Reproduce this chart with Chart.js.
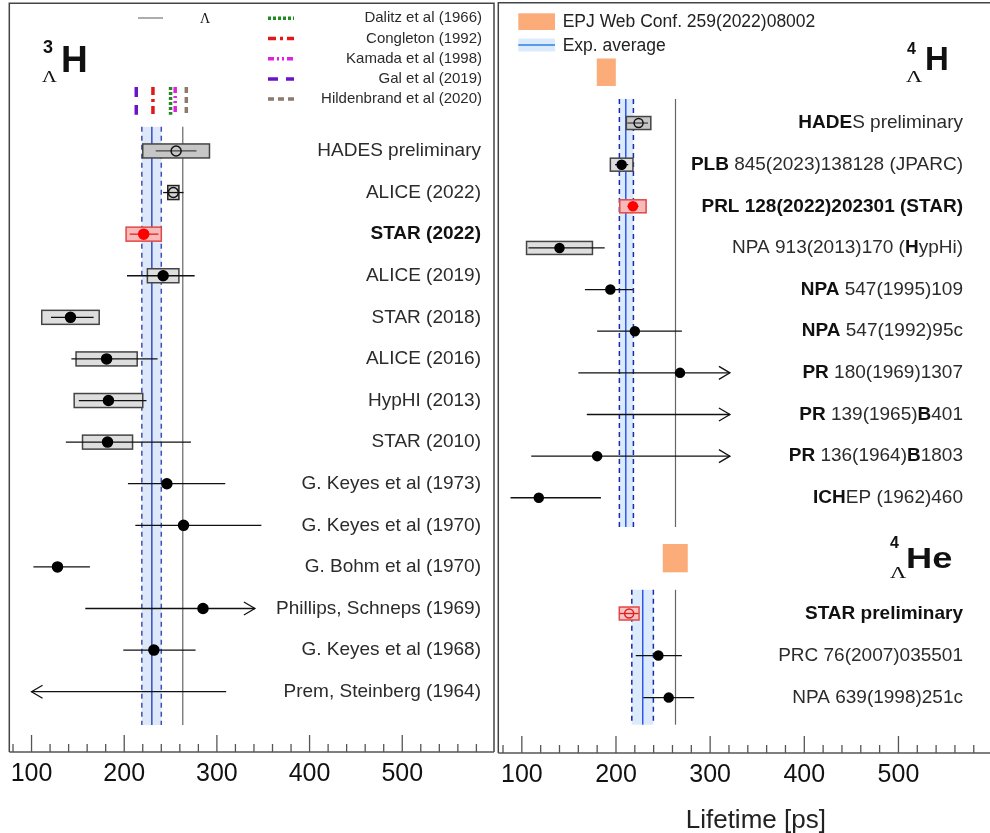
<!DOCTYPE html>
<html>
<head>
<meta charset="utf-8">
<script src="https://cdn.jsdelivr.net/npm/chart.js@4.4.0/dist/chart.umd.min.js"></script>
<style>
  html, body { margin: 0; padding: 0; background: #fff; width: 990px; height: 833px; overflow: hidden; }
  #left { position: absolute; left: 0; top: 0; }
  #right { position: absolute; left: 497px; top: 0; }
</style>
</head>
<body>
<canvas id="left" width="495" height="833"></canvas>
<canvas id="right" width="500" height="833"></canvas>
<script>
// ---------- data: hypertriton 3ΛH (left panel) ----------
const h3Labels = ['HADES preliminary', 'ALICE (2022)', '**STAR (2022)**', 'ALICE (2019)', 'STAR (2018)',
  'ALICE (2016)', 'HypHI (2013)', 'STAR (2010)', 'G. Keyes et al (1973)', 'G. Keyes et al (1970)',
  'G. Bohm et al (1970)', 'Phillips, Schneps (1969)', 'G. Keyes et al (1968)', 'Prem, Steinberg (1964)'];
const h3Rows  = [0, 1, 2, 3, 4, 5, 6, 7, 8, 9, 10, 11, 12, 13];
const h3Value = [256, 253, 221, 242, 142, 181, 183, 182, 246, 264, 128, 285, 232, null];
const h3Low   = [234, 242, 206, 203, 121, 143, 151, 137, 204, 212, 102, 158, 199, 100];
const h3High  = [278, 264, 237, 276, 167, 236, 224, 272, 309, 348, 163, 341, 277, 310];
const h3Sys   = [36, 6, 19, 17, 31, 33, 37, 27, 0, 0, 0, 0, 0, 0];
const h3Arrow = ['', '', '', '', '', '', '', '', '', '', '', 'right', '', 'left'];
const h3Average = [229.8, 219, 240];          // mean, lower, upper
const lambdaLifetime = 263.2;
const h3TheoryNames  = ['Dalitz et al (1966)', 'Congleton (1992)', 'Kamada et al (1998)', 'Gal et al (2019)', 'Hildenbrand et al (2020)'];
const h3TheoryValues = [250, 231, 255, 213, 267];

// ---------- data: 4ΛH (right panel, top) ----------
const h4Labels = ['**HADE**S preliminary', '**PLB** 845(2023)138128 (JPARC)', '**PRL 128(2022)202301 (STAR)**',
  'NPA 913(2013)170 (**H**ypHi)', '**NPA** 547(1995)109', '**NPA** 547(1992)95c', '**PR** 180(1969)1307',
  '**PR** 139(1965)**B**401', '**PR** 136(1964)**B**1803', '**ICH**EP (1962)460'];
const h4Rows  = [0, 1, 2, 3, 4, 5, 6, 7, 8, 9];
const h4Value = [224, 206, 218, 140, 194, 220, 268, null, 180, 118];
const h4Low   = [212, 199, 212, 107, 167, 180, 160, 169, 110, 88];
const h4High  = [234, 213, 224, 188, 218, 270, 321, 321, 321, 184];
const h4Sys   = [13, 12, 14, 35, 0, 0, 0, 0, 0, 0];
const h4Arrow = ['', '', '', '', '', '', 'right', 'right', 'right', ''];
const h4Average = [210.4, 203.6, 218.5];
const h4Calc = [179.6, 199.8];                // EPJ Web Conf. 259(2022)08002

// ---------- data: 4ΛHe (right panel, bottom) ----------
const he4Labels = ['**STAR preliminary**', 'PRC 76(2007)035501', 'NPA 639(1998)251c'];
const he4Rows  = [11.78, 12.79, 13.8];
const he4Value = [214, 245, 256];
const he4Low   = [204, 221, 229];
const he4High  = [224, 270, 283];
const he4Sys   = [10.5, 0, 0];
const he4Arrow = ['', '', ''];
const he4Average = [228.4, 216.8, 239.7];
const he4Calc = [249.7, 276.2];

const xTickLabels = [100, 200, 300, 400, 500];
const xMinorStep = 20;

// ---------- styling ----------
const SANS = '"Liberation Sans", Arial, sans-serif';
const SERIF = '"Liberation Serif", "Times New Roman", serif';
const kinds = {
  h3: ['openDark', 'open', 'red', 'filled', 'filled', 'filled', 'filled', 'filled', 'filled', 'filled', 'filled', 'filled', 'filled', 'filled'],
  h4: ['openDark', 'filled', 'red', 'filled', 'filled', 'filled', 'filled', 'filled', 'filled', 'filled'],
  he4: ['redOpen', 'filled', 'filled']
};
const boxStyle = {
  openDark: { fill: '#c6c6c6', line: '#444' },
  open:     { fill: '#d4d4d4', line: '#222' },
  filled:   { fill: '#dedede', line: '#444' },
  red:      { fill: '#f8b9b9', line: '#e24848' },
  redOpen:  { fill: '#f8c4c4', line: '#e24848' }
};
const theoryStyle = [
  { color: '#1f8a1f', dash: [3, 2] },
  { color: '#e01818', dash: [8, 4, 3, 4] },
  { color: '#e020e0', dash: [6, 3, 2, 3, 2, 3] },
  { color: '#6a14c8', dash: [10, 8] },
  { color: '#8c7a6c', dash: [6, 4] }
];

function minorTicks(min, max) {
  const t = [];
  for (let v = Math.ceil(min / xMinorStep) * xMinorStep; v < max; v += xMinorStep) t.push({ value: v });
  return t;
}

function drawRich(ctx, text, xRight, y, size) {
  const parts = text.split('**').map((t, i) => ({ t, b: i % 2 === 1 })).filter(p => p.t);
  let total = 0;
  parts.forEach(p => {
    ctx.font = (p.b ? 'bold ' : '') + size + 'px ' + SANS;
    p.w = ctx.measureText(p.t).width; total += p.w;
  });
  let x = xRight - total;
  ctx.textAlign = 'left'; ctx.textBaseline = 'middle';
  parts.forEach(p => {
    ctx.font = (p.b ? 'bold ' : '') + size + 'px ' + SANS;
    ctx.fillStyle = p.b ? '#111' : '#2b2b2b';
    ctx.fillText(p.t, x, y);
    x += p.w;
  });
}

function drawStretched(ctx, text, x, y, font, sx) {
  ctx.save();
  ctx.translate(x, y); ctx.scale(sx, 1);
  ctx.font = font; ctx.textAlign = 'left'; ctx.textBaseline = 'alphabetic';
  ctx.fillStyle = '#111';
  ctx.fillText(text, 0, 0);
  ctx.restore();
}

function drawBand(chart, avg, rowFrom, rowTo, colors) {
  const { ctx, scales: { x, y } } = chart;
  const y0 = y.getPixelForValue(rowFrom), y1 = y.getPixelForValue(rowTo);
  const xm = x.getPixelForValue(avg[0]), xl = x.getPixelForValue(avg[1]), xh = x.getPixelForValue(avg[2]);
  const xg = x.getPixelForValue(lambdaLifetime);
  ctx.save();
  ctx.fillStyle = colors.fill;
  ctx.fillRect(xl, y0, xh - xl, y1 - y0);
  ctx.lineWidth = 1.5;
  ctx.strokeStyle = colors.dashed; ctx.setLineDash([5, 4]);
  [xl, xh].forEach(px => { ctx.beginPath(); ctx.moveTo(px, y0); ctx.lineTo(px, y1); ctx.stroke(); });
  ctx.setLineDash([]);
  ctx.strokeStyle = colors.solid;
  ctx.beginPath(); ctx.moveTo(xm, y0); ctx.lineTo(xm, y1); ctx.stroke();
  ctx.strokeStyle = '#666'; ctx.lineWidth = 1.2;
  ctx.beginPath(); ctx.moveTo(xg, y0); ctx.lineTo(xg, y1); ctx.stroke();
  ctx.restore();
}

function drawCalcBox(chart, range, rowFrom, rowTo) {
  const { ctx, scales: { x, y } } = chart;
  const x0 = x.getPixelForValue(range[0]), x1 = x.getPixelForValue(range[1]);
  const y0 = y.getPixelForValue(rowFrom), y1 = y.getPixelForValue(rowTo);
  ctx.fillStyle = '#fbac78';
  ctx.fillRect(x0, y0, x1 - x0, y1 - y0);
}

function drawErrors(chart, g, boxH) {
  const { ctx, scales: { x, y } } = chart;
  ctx.save();
  g.rows.forEach((row, i) => {
    const py = y.getPixelForValue(row);
    const k = g.kinds[i];
    if (g.sys[i]) {
      const c = g.value[i];
      const x0 = x.getPixelForValue(c - g.sys[i]), x1 = x.getPixelForValue(c + g.sys[i]);
      ctx.fillStyle = boxStyle[k].fill; ctx.strokeStyle = boxStyle[k].line; ctx.lineWidth = 1.5;
      ctx.fillRect(x0, py - boxH / 2, x1 - x0, boxH);
      ctx.strokeRect(x0, py - boxH / 2, x1 - x0, boxH);
    }
    const xl = x.getPixelForValue(g.low[i]), xh = x.getPixelForValue(g.high[i]);
    ctx.strokeStyle = (k === 'red' || k === 'redOpen') ? '#e02020' : (k === 'openDark' ? '#444' : '#111');
    ctx.lineWidth = 1.3;
    ctx.beginPath(); ctx.moveTo(xl, py); ctx.lineTo(xh, py); ctx.stroke();
    if (g.arrow[i]) {
      const tip = g.arrow[i] === 'right' ? xh : xl;
      const d = g.arrow[i] === 'right' ? -11 : 11;
      ctx.beginPath();
      ctx.moveTo(tip + d, py - 6.5); ctx.lineTo(tip, py); ctx.lineTo(tip + d, py + 6.5);
      ctx.stroke();
    }
  });
  ctx.restore();
}

function pointDataset(g, radius) {
  const pts = [], bg = [], bd = [];
  g.rows.forEach((row, i) => {
    if (g.value[i] === null) return;
    const k = g.kinds[i];
    pts.push({ x: g.value[i], y: row });
    if (k === 'red') { bg.push('#ff0000'); bd.push('#ff0000'); }
    else if (k === 'redOpen') { bg.push('rgba(0,0,0,0)'); bd.push('#e02020'); }
    else if (k === 'open' || k === 'openDark') { bg.push('rgba(0,0,0,0)'); bd.push('#111'); }
    else { bg.push('#000'); bd.push('#000'); }
  });
  return {
    type: 'scatter', data: pts, pointRadius: radius, pointHoverRadius: radius,
    pointBackgroundColor: bg, pointBorderColor: bd, pointBorderWidth: 1.5
  };
}

const axisTicks = {
  id: 'axisTicks',
  afterDraw(chart) {
    const { ctx, chartArea: a, scales: { x } } = chart;
    ctx.save();
    ctx.strokeStyle = '#444'; ctx.lineWidth = 1.5;
    ctx.beginPath();
    ctx.moveTo(a.left, a.bottom); ctx.lineTo(a.left, a.top); ctx.lineTo(a.right, a.top); ctx.lineTo(a.right, a.bottom);
    ctx.stroke();
    ctx.strokeStyle = '#555'; ctx.lineWidth = 1.3;
    ctx.beginPath(); ctx.moveTo(a.left, a.bottom); ctx.lineTo(a.right, a.bottom); ctx.stroke();
    x.ticks.forEach(t => {
      const px = x.getPixelForValue(t.value);
      const len = xTickLabels.includes(t.value) ? 17 : 8;
      ctx.beginPath(); ctx.moveTo(px, a.bottom); ctx.lineTo(px, a.bottom - len); ctx.stroke();
    });
    ctx.restore();
  }
};

function xScale(min, max, height) {
  return {
    type: 'linear', position: 'bottom', min, max,
    afterBuildTicks: s => { s.ticks = minorTicks(min, max); },
    afterFit: s => { s.height = height; s.paddingLeft = 0; s.paddingRight = 0; },
    grid: { display: false, drawTicks: false },
    border: { display: false },
    ticks: {
      autoSkip: false, maxRotation: 0, padding: 7, color: '#111',
      font: { family: SANS, size: 25 },
      callback: v => xTickLabels.includes(v) ? String(v) : ''
    }
  };
}

// ---------- left panel ----------
const h3Group = { rows: h3Rows, value: h3Value, low: h3Low, high: h3High, sys: h3Sys, arrow: h3Arrow, kinds: kinds.h3 };

const theoryDatasets = h3TheoryValues.map((v, i) => ({
  type: 'scatter', showLine: true, data: [{ x: v, y: -1.54 }, { x: v, y: -0.87 }],
  borderColor: theoryStyle[i].color, borderDash: theoryStyle[i].dash, borderWidth: 3.5,
  borderCapStyle: 'butt', pointRadius: 0, pointHoverRadius: 0
}));

const leftDecor = {
  id: 'leftDecor',
  beforeDatasetsDraw(chart) {
    drawBand(chart, h3Average, -0.58, 13.8, { fill: '#dde9f8', dashed: '#4050b8', solid: '#3a4cc0' });
    drawErrors(chart, h3Group, 14);
  },
  afterDraw(chart) {
    const { ctx, scales: { y } } = chart;
    h3Labels.forEach((t, i) => drawRich(ctx, t, 481, y.getPixelForValue(h3Rows[i]), 19));
    // title
    drawStretched(ctx, '3', 43, 53, 'bold 18px ' + SANS, 1);
    drawStretched(ctx, 'Λ', 42, 82, '17px ' + SERIF, 1.2);
    drawStretched(ctx, 'H', 61, 72, 'bold 37px ' + SANS, 1);
    // legend
    ctx.save();
    ctx.strokeStyle = '#777'; ctx.lineWidth = 1.2;
    ctx.beginPath(); ctx.moveTo(138, 18); ctx.lineTo(163, 18); ctx.stroke();
    drawStretched(ctx, 'Λ', 200, 23, '14px ' + SERIF, 1);
    h3TheoryNames.forEach((n, i) => {
      const ly = 18.3 + i * 20.2;
      ctx.strokeStyle = theoryStyle[i].color; ctx.lineWidth = 3.5; ctx.lineCap = 'butt';
      ctx.setLineDash(theoryStyle[i].dash);
      ctx.beginPath(); ctx.moveTo(268, ly); ctx.lineTo(294, ly); ctx.stroke();
      ctx.setLineDash([]);
      drawRich(ctx, n, 482, ly, 15);
    });
    ctx.restore();
  }
};

new Chart(document.getElementById('left'), {
  type: 'scatter',
  data: { datasets: [...theoryDatasets, pointDataset(h3Group, 5)] },
  options: {
    responsive: false, animation: false,
    layout: { autoPadding: false, padding: { left: 9.3, right: 1, top: 3.3, bottom: 0 } },
    plugins: { legend: { display: false }, tooltip: { enabled: false } },
    scales: {
      x: xScale(76, 599, 81),
      y: { type: 'linear', min: -3.55, max: 14.45, reverse: true, display: false }
    }
  },
  plugins: [leftDecor, axisTicks]
});

// ---------- right panel ----------
const h4Group = { rows: h4Rows, value: h4Value, low: h4Low, high: h4High, sys: h4Sys, arrow: h4Arrow, kinds: kinds.h4 };
const he4Group = { rows: he4Rows, value: he4Value, low: he4Low, high: he4High, sys: he4Sys, arrow: he4Arrow, kinds: kinds.he4 };

const rightDecor = {
  id: 'rightDecor',
  beforeDatasetsDraw(chart) {
    const bandColors = { fill: '#dcebfb', dashed: '#1a2aa8', solid: '#2f55ee' };
    drawBand(chart, h4Average, -0.58, 9.7, bandColors);
    drawBand(chart, he4Average, 11.21, 14.45, bandColors);
    drawCalcBox(chart, h4Calc, -1.55, -0.89);
    drawCalcBox(chart, he4Calc, 10.11, 10.79);
    drawErrors(chart, h4Group, 13);
    drawErrors(chart, he4Group, 13);
  },
  afterDraw(chart) {
    const { ctx, scales: { y } } = chart;
    h4Labels.forEach((t, i) => drawRich(ctx, t, 466, y.getPixelForValue(h4Rows[i]), 19));
    he4Labels.forEach((t, i) => drawRich(ctx, t, 466, y.getPixelForValue(he4Rows[i]), 19));
    // titles
    drawStretched(ctx, '4', 410, 54, 'bold 16px ' + SANS, 1);
    drawStretched(ctx, 'Λ', 409, 82, '16px ' + SERIF, 1.4);
    drawStretched(ctx, 'H', 428, 70, 'bold 33px ' + SANS, 1);
    drawStretched(ctx, '4', 393, 548, 'bold 16px ' + SANS, 1);
    drawStretched(ctx, 'Λ', 393, 578, '16px ' + SERIF, 1.4);
    drawStretched(ctx, 'He', 409, 568, 'bold 29px ' + SANS, 1.25);
    // legend
    ctx.save();
    ctx.fillStyle = '#fbac78'; ctx.fillRect(21.3, 13.3, 36.7, 16.7);
    ctx.fillStyle = '#dcebfb'; ctx.fillRect(21.3, 38.5, 36.7, 13);
    ctx.strokeStyle = '#2f80e0'; ctx.lineWidth = 1.3;
    ctx.beginPath(); ctx.moveTo(21.3, 45); ctx.lineTo(58, 45); ctx.stroke();
    ctx.font = '17.5px ' + SANS; ctx.fillStyle = '#222'; ctx.textAlign = 'left'; ctx.textBaseline = 'middle';
    ctx.fillText('EPJ Web Conf. 259(2022)08002', 65.7, 22);
    ctx.fillText('Exp. average', 65.7, 46);
    // axis title
    ctx.font = '26px ' + SANS; ctx.fillStyle = '#222'; ctx.textAlign = 'center'; ctx.textBaseline = 'alphabetic';
    ctx.fillText('Lifetime [ps]', 258.8, 828);
    ctx.restore();
  }
};

new Chart(document.getElementById('right'), {
  type: 'scatter',
  data: { datasets: [pointDataset(h4Group, 4.5), pointDataset(he4Group, 4.5)] },
  options: {
    responsive: false, animation: false,
    layout: { autoPadding: false, padding: { left: 1.3, right: 4.4, top: 2.7, bottom: 0 } },
    plugins: { legend: { display: false }, tooltip: { enabled: false } },
    scales: {
      x: xScale(75, 600, 80),
      y: { type: 'linear', min: -2.89, max: 15.13, reverse: true, display: false }
    }
  },
  plugins: [rightDecor, axisTicks]
});
</script>
</body>
</html>
